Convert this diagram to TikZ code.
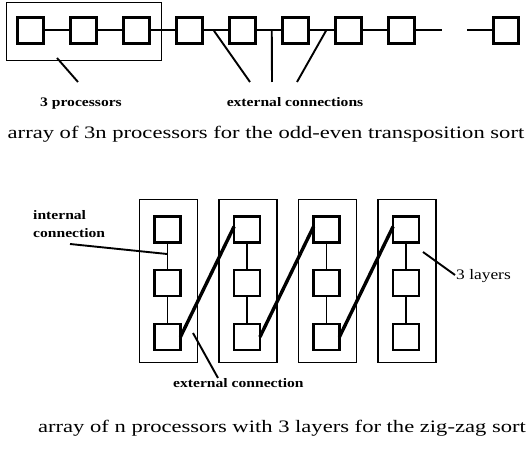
\documentclass[tikz,border=0pt]{standalone}
\usepackage{fontspec}
\setmainfont{Liberation Serif}
\newfontfamily\capfont[FakeStretch=1.29]{Liberation Serif}
\newfontfamily\labfont[FakeStretch=1.2]{Liberation Serif}
\usetikzlibrary{calc}
\begin{document}
\begin{tikzpicture}[x=1pt,y=-1pt,
  proc/.style={draw, line width=2.8pt, minimum size=25.3pt, inner sep=0pt, outer sep=0pt},
  vproc/.style={draw, line width=2.6pt, minimum size=25.8pt, inner sep=0pt, outer sep=0pt},
  grp/.style={draw, line width=1.1pt, inner sep=0pt, outer sep=0pt},
  conn/.style={line width=2pt},
  inconn/.style={line width=1.1pt},
  zig/.style={line width=3.4pt},
  ptr/.style={line width=1.9pt},
  lab/.style={inner sep=0pt, font=\labfont\bfseries\fontsize{13}{15}\selectfont},
  labr/.style={inner sep=0pt, font=\labfont\fontsize{14.5}{16}\selectfont},
  captext/.style={inner sep=0pt, font=\capfont\fontsize{17.5}{20}\selectfont}]
\useasboundingbox (0,0) rectangle (531,449);
% ---------- top row ----------
\node[grp, minimum width=154.9pt, minimum height=57.9pt] (g) at (84,31.5) {};
\foreach \i/\x in {1/30.5,2/83.5,3/136.5,4/189.5,5/242.5,6/295.5,7/348.5,8/401.5,9/506}
  \node[proc] (p\i) at (\x,30.5) {};
\foreach \i/\j in {1/2,2/3,3/4,4/5,5/6,6/7,7/8}
  \draw[conn] (p\i) -- (p\j);
\coordinate (s1) at (442,30.5);
\coordinate (s2) at (467,30.5);
\draw[conn] (p8.east) -- (s1);
\draw[conn] (s2) -- (p9.west);
% labels and pointers
\node[lab, anchor=base] (t1) at (81,107) {3 processors};
\node[lab, anchor=base] (t2) at (295,107) {external connections};
\coordinate (a1) at (57,58);
\coordinate (a2) at (78,82);
\draw[ptr] (a1) -- (a2);
\coordinate (e1) at ($(p4.east)!0.42!(p5.west)$);
\coordinate (e2) at ($(p5.east)!0.6!(p6.west)$);
\coordinate (e3) at ($(p6.east)!0.65!(p7.west)$);
\coordinate (f1) at (250,82);
\coordinate (f2) at (272,82);
\coordinate (f3) at (297,82);
\draw[ptr] (e1) -- (f1);
\draw[ptr] (e2) -- (f2);
\draw[ptr] (e3) -- (f3);
\node[captext, anchor=base] (c1) at (266,139) {array of 3n processors for the odd-even transposition sort};
% ---------- bottom ----------
\foreach \k/\x in {1/168.5,2/248,3/327.5,4/407} {
  \node[grp, minimum width=58pt, minimum height=163pt] (r\k) at (\x,281) {};
  \node[vproc] (t\k) at (\x-1,229.5) {};
  \node[vproc] (m\k) at (\x-1,283) {};
  \node[vproc] (b\k) at (\x-1,337) {};
  \draw[inconn] (t\k) -- (m\k);
  \draw[inconn] (m\k) -- (b\k);
}
\foreach \i/\j in {1/2,2/3,3/4}
  \draw[zig] (b\i.east) -- ([yshift=3pt]t\j.west);
% labels
\node[lab, anchor=base west] (il1) at (33,220) {internal};
\node[lab, anchor=base west] (il2) at (33,238) {connection};
\coordinate (ia) at (70,244);
\coordinate (ib) at ($(t1.south)!0.42!(m1.north)$);
\draw[ptr] (ia) -- (ib);
\node[labr, anchor=base west] (ll) at (456,280) {3 layers};
\coordinate (la) at (423,252);
\coordinate (lb) at (455,275);
\draw[ptr] (la) -- (lb);
\node[lab, anchor=base west] (el) at (173,388) {external connection};
\coordinate (xa) at (193,333);
\coordinate (xb) at (218,378);
\draw[ptr] (xa) -- (xb);
\node[captext, anchor=base] (c2) at (282,433) {array of n processors with 3 layers for the zig-zag sort};
\end{tikzpicture}
\end{document}
